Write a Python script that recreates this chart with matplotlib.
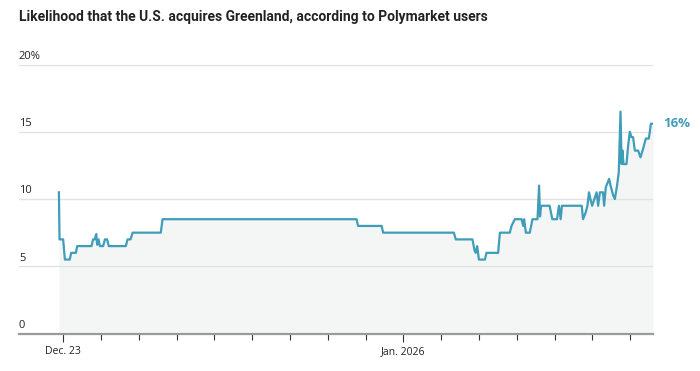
import matplotlib
matplotlib.use("Agg")
import matplotlib.pyplot as plt
import matplotlib.dates as mdates
import pandas as pd

# hours since Dec. 23, 2025 00:00 and probability (%)
hours = [-2.7, -2.3, 0.0, 1.1, 4.2, 5.1, 8.1, 8.9, 18.0, 19.0, 20.1, 21.0, 21.6, 22.5,
         23.3, 25.4, 26.5, 27.9, 29.0, 39.8, 40.9, 42.8, 44.1, 62.0, 63.1,
         186.3, 187.3, 202.2, 203.2, 248.1, 249.3, 259.9, 261.2, 262.0, 262.9,
         264.0, 267.8, 268.8, 276.2, 277.3, 283.6, 284.7, 286.8, 291.1, 292.1,
         292.7, 293.8, 296.3, 298.0, 301.2, 302.2, 302.8, 303.5, 308.9, 310.6,
         313.6, 314.8, 315.9, 316.7, 329.3, 330.1, 331.8, 332.9, 333.9, 334.8,
         335.9, 338.7, 339.7, 340.8, 342.8, 343.5, 344.6, 346.7, 347.6, 349.2,
         350.3, 351.7, 352.8, 353.9, 354.6, 355.2, 355.8, 357.7, 358.7, 359.8,
         360.9, 361.9, 363.0, 365.1, 366.6, 367.9, 370.0, 371.9, 373.2, 374.6]
values = [10.5, 7.0, 7.0, 5.5, 5.5, 6.0, 6.0, 6.5, 6.5, 7.0, 7.0, 7.4, 6.6, 7.0,
          6.5, 6.5, 7.0, 7.0, 6.5, 6.5, 7.0, 7.0, 7.5, 7.5, 8.5,
          8.5, 8.0, 8.0, 7.5, 7.5, 7.0, 7.0, 6.2, 6.0, 6.5,
          5.5, 5.5, 6.0, 6.0, 7.5, 7.5, 8.0, 8.5, 8.5, 8.0,
          8.5, 7.5, 7.5, 8.5, 8.5, 11.0, 8.7, 9.5, 9.5, 8.5,
          8.5, 9.5, 8.5, 9.5, 9.5, 8.5, 9.0, 9.5, 10.5, 10.0,
          9.5, 10.5, 9.5, 10.5, 10.5, 9.5, 10.9, 11.5, 11.0, 10.3,
          10.0, 11.0, 12.0, 16.5, 12.6, 13.6, 12.6, 12.6, 13.9, 15.0,
          14.6, 14.6, 13.6, 13.6, 13.1, 13.6, 14.5, 14.5, 15.6, 15.6]
y_ticks = [0, 5, 10, 15, 20]
y_labels = ["0", "5", "10", "15", "20%"]
end_label = "16%"
title = "Likelihood that the U.S. acquires Greenland, according to Polymarket users"

start = pd.Timestamp("2025-12-23")
times = start + pd.to_timedelta(hours, unit="h")

line_color = "#3f9db9"
fig = plt.figure(figsize=(7, 3.71), dpi=100)
ax = fig.add_axes([0.027, 0.101, 0.906, 0.725])

ax.fill_between(times, values, 0, color="#f4f6f5", lw=0, zorder=1)
ax.plot(times, values, color=line_color, lw=1.6, solid_joinstyle="round", zorder=3)

ax.set_xlim(start + pd.Timedelta(hours=-28.1), times[-1])
ax.set_ylim(0, 20)

# gridlines and y labels sitting just above them
for t, lab in zip(y_ticks, y_labels):
    if t > 0:
        ax.axhline(t, color="#e2e2e2", lw=1, zorder=2)
    ax.text(0, t + 0.2, lab, transform=ax.get_yaxis_transform(),
            fontsize=8, color="#222222", va="bottom", ha="left",
            family="Open Sans")
ax.set_yticks([])

for s in ["top", "right", "left"]:
    ax.spines[s].set_visible(False)
ax.spines["bottom"].set_color("#9a9a9a")
ax.spines["bottom"].set_linewidth(1.6)
ax.spines["bottom"].set_zorder(4)

major = [pd.Timestamp("2025-12-23"), pd.Timestamp("2026-01-01")]
ax.set_xticks(major)
ax.set_xticklabels(["Dec. 23", "Jan. 2026"], fontsize=7.5, family="Open Sans",
                   color="#222222")
minor = pd.date_range("2025-12-23", "2026-01-07", freq="D")
ax.set_xticks(minor, minor=True)
ax.tick_params(axis="x", which="major", length=6, width=0.8, color="#333333", pad=3)
ax.tick_params(axis="x", which="minor", length=4, width=0.8, color="#333333")

ax.annotate(end_label, xy=(times[-1], values[-1]), xytext=(7, 0),
            textcoords="offset points", va="center", ha="left",
            fontsize=9.5, fontweight="bold", color=line_color, family="Open Sans",
            annotation_clip=False)

fig.text(0.027, 0.955, title, fontsize=10, fontweight="bold", color="#222222",
         va="center", ha="left", family="Roboto")

fig.savefig("out.png", dpi=100)
